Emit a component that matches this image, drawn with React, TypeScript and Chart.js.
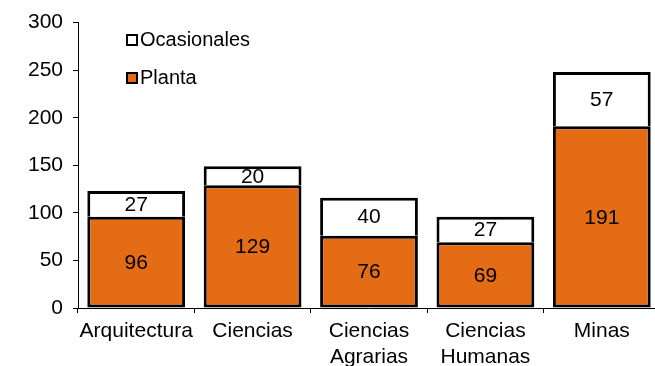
import React, { useEffect, useRef } from "react";
import { Chart, registerables } from "chart.js";

Chart.register(...registerables);

const categories: (string | string[])[] = [
  "Arquitectura",
  "Ciencias",
  ["Ciencias", "Agrarias"],
  ["Ciencias", "Humanas"],
  "Minas",
];
const planta = [96, 129, 76, 69, 191];
const ocasionales = [27, 20, 40, 27, 57];
const yTicks = [0, 50, 100, 150, 200, 250, 300];

const ORANGE = "#E36C14";
const FONT = "'Liberation Sans', Arial, sans-serif";

const labelsPlugin = {
  id: "valueLabels",
  afterDatasetsDraw(chart: any) {
    const ctx = chart.ctx;
    ctx.save();
    ctx.font = `21px ${FONT}`;
    ctx.fillStyle = "#000";
    ctx.textAlign = "center";
    ctx.textBaseline = "middle";
    chart.data.datasets.forEach((ds: any, di: number) => {
      const meta = chart.getDatasetMeta(di);
      meta.data.forEach((bar: any, i: number) => {
        const y = (bar.y + bar.base) / 2;
        ctx.fillText(String(ds.data[i]), bar.x, y + 1);
      });
    });
    ctx.restore();
  },
};

const legendPlugin = {
  id: "insideLegend",
  afterDraw(chart: any) {
    const ctx = chart.ctx;
    ctx.save();
    const items = [...chart.data.datasets].reverse();
    const rows = [40, 78];
    items.forEach((ds: any, k: number) => {
      const cy = rows[k];
      ctx.fillStyle = ds.backgroundColor;
      ctx.fillRect(126, cy - 6, 12, 12);
      ctx.strokeStyle = "#000";
      ctx.lineWidth = 2;
      ctx.strokeRect(127, cy - 5, 10, 10);
      ctx.fillStyle = "#000";
      ctx.font = `20px ${FONT}`;
      ctx.textAlign = "left";
      ctx.textBaseline = "middle";
      ctx.fillText(ds.label, 140, cy);
    });
    ctx.restore();
  },
};

export default function App() {
  const ref = useRef<HTMLCanvasElement | null>(null);
  useEffect(() => {
    if (!ref.current) return;
    const chart = new Chart(ref.current, {
      type: "bar",
      data: {
        labels: categories,
        datasets: [
          {
            label: "Planta",
            data: planta,
            backgroundColor: ORANGE,
            borderColor: "#000",
            borderWidth: 3,
            borderSkipped: false,
            barPercentage: 0.84,
            categoryPercentage: 1,
          },
          {
            label: "Ocasionales",
            data: ocasionales,
            backgroundColor: "#FFFFFF",
            borderColor: "#000",
            borderWidth: { top: 3, left: 3, right: 3, bottom: 0 },
            borderSkipped: false,
            barPercentage: 0.84,
            categoryPercentage: 1,
          },
        ],
      },
      options: {
        responsive: false,
        animation: false,
        devicePixelRatio: 1,
        layout: { padding: { top: 19, right: 0, left: 0, bottom: 0 } },
        plugins: { legend: { display: false }, tooltip: { enabled: false } },
        scales: {
          x: {
            stacked: true,
            offset: true,
            grid: {
              display: true,
              offset: true,
              drawOnChartArea: false,
              drawTicks: true,
              tickLength: 5,
              color: "#000",
            },
            border: { display: true, color: "#000", width: 1 },
            ticks: {
              color: "#000",
              font: { family: FONT, size: 21, lineHeight: 1.2 },
              padding: 6,
              maxRotation: 0,
              autoSkip: false,
            },
            afterFit: (s: any) => {
              s.height = 366 - 308;
            },
          },
          y: {
            stacked: true,
            min: 0,
            max: 300,
            afterBuildTicks: (s: any) => {
              s.ticks = yTicks.map((v) => ({ value: v }));
            },
            grid: {
              display: true,
              drawOnChartArea: false,
              drawTicks: true,
              tickLength: 5,
              color: "#000",
            },
            border: { display: true, color: "#000", width: 1 },
            ticks: {
              color: "#000",
              font: { family: FONT, size: 21 },
              padding: 10,
            },
            afterFit: (s: any) => {
              s.width = 78;
            },
          },
        },
      },
      plugins: [labelsPlugin, legendPlugin],
    });
    return () => chart.destroy();
  }, []);
  return (
    <div
      style={{
        position: "fixed",
        left: 0,
        top: 0,
        width: 655,
        height: 366,
        overflow: "hidden",
        background: "#fff",
      }}
    >
      <canvas ref={ref} width={660} height={366} style={{ display: "block" }} />
    </div>
  );
}
